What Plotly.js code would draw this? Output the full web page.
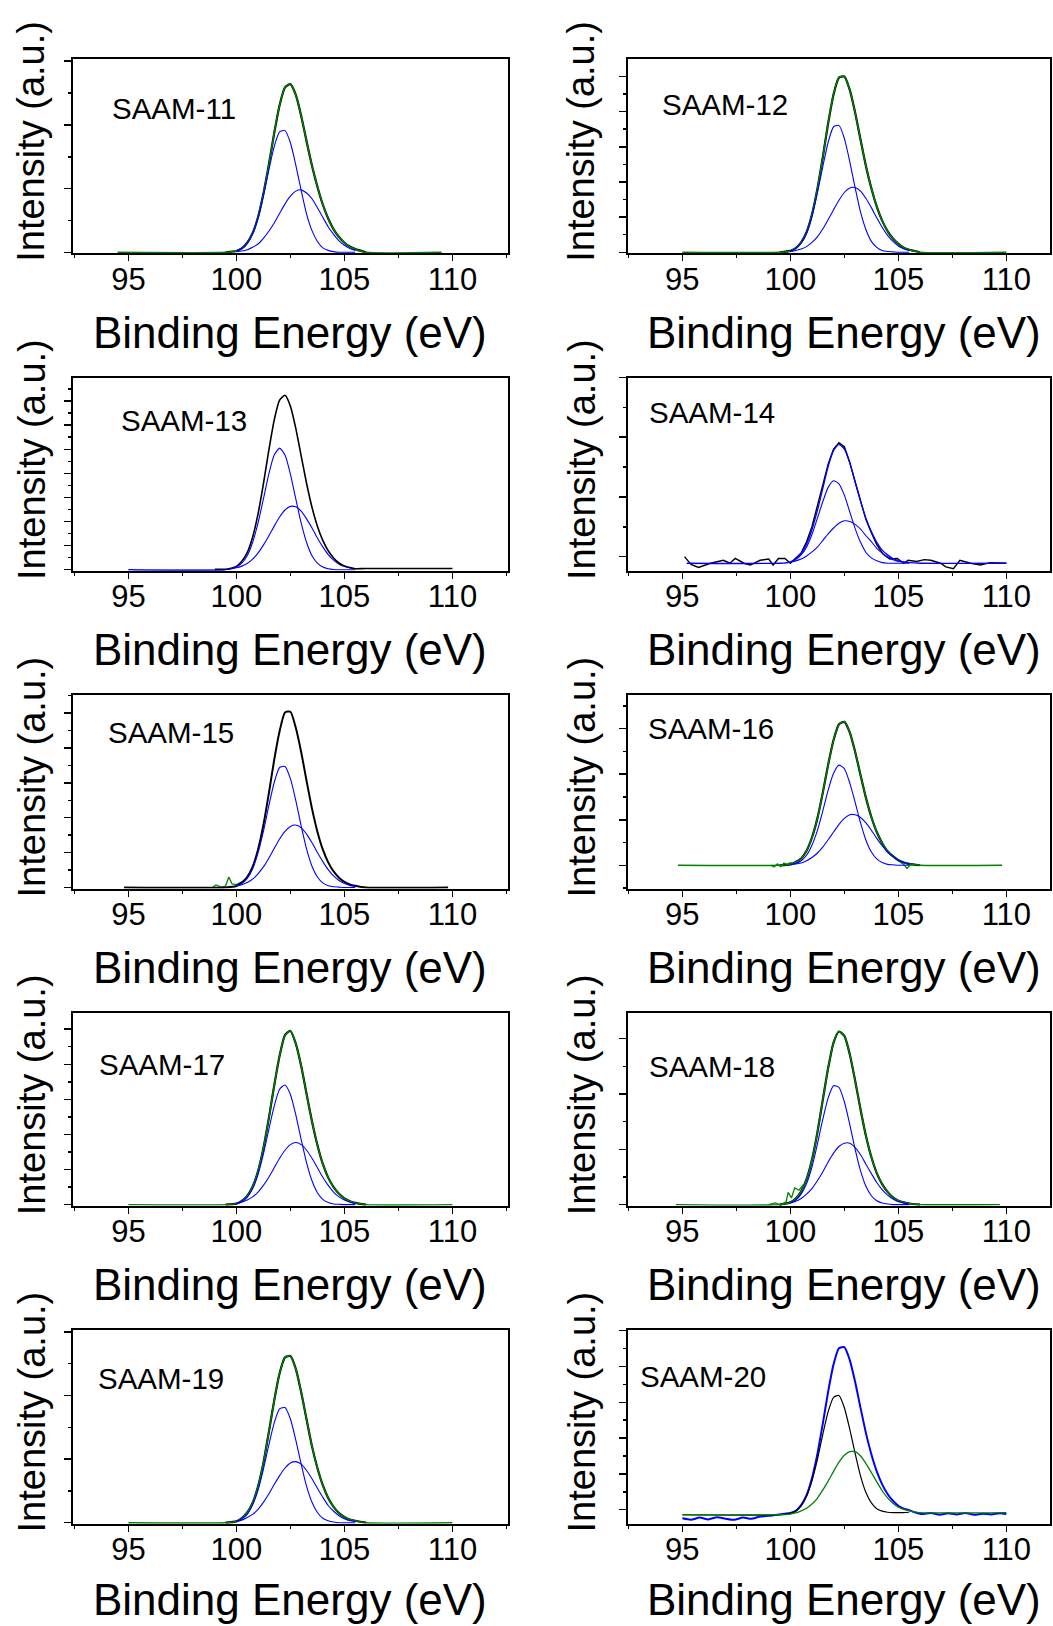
<!DOCTYPE html>
<html>
<head>
<meta charset="utf-8">
<script src="https://cdn.plot.ly/plotly-3.0.1.min.js"></script>
<style>
html,body{margin:0;padding:0;background:#fff;}
#chart{width:1053px;height:1626px;}
</style>
</head>
<body>
<div id="chart"></div>
<script>
// ---------------- DATA ----------------
const SAMPLES = ['SAAM-11','SAAM-12','SAAM-13','SAAM-14','SAAM-15','SAAM-16','SAAM-17','SAAM-18','SAAM-19','SAAM-20'];
const X_TICKS = [95, 100, 105, 110];
const X_TICK_LABELS = ['95', '100', '105', '110'];
const X_TITLE = 'Binding Energy (eV)';
const Y_TITLE = 'Intensity (a.u.)';

// binding energy grid of the fitted peak region (eV)
const X_COMP = [100,100.25,100.5,100.75,101,101.25,101.5,101.75,102,102.25,102.5,102.75,103,103.25,103.5,103.75,104,104.25,104.5,104.75,105,105.25,105.5];

// envelope (measured / fitted sum) and the two components, per sample
const ENV_11 = [.02,.06,.15,.30,.55,.92,1.37,1.87,2.31,2.59,2.64,2.47,2.14,1.74,1.36,1.03,.75,.53,.36,.24,.15,.09,.05];
const C1_11  = [.02,.06,.14,.29,.54,.89,1.29,1.66,1.89,1.91,1.72,1.37,.97,.60,.34,.17,.07,.03,.01,0,0,0,0];
const C2_11  = [.01,.02,.04,.08,.13,.22,.33,.46,.61,.76,.88,.96,.98,.93,.84,.70,.55,.40,.28,.18,.11,.06,.03];

const ENV_12 = [.04,.12,.28,.57,1.07,1.80,2.70,3.67,4.49,4.97,5.00,4.62,3.97,3.20,2.45,1.82,1.30,.90,.60,.39,.24,.13,.07];
const C1_12  = [.04,.11,.27,.55,1.03,1.68,2.43,3.13,3.57,3.61,3.24,2.58,1.83,1.14,.64,.31,.14,.05,.02,.01,0,0,0];
const C2_12  = [.02,.05,.09,.16,.28,.44,.66,.93,1.21,1.48,1.70,1.83,1.84,1.74,1.53,1.27,.98,.71,.48,.31,.18,.10,.05];

const ENV_13 = [.14,.35,.71,1.35,2.31,3.56,4.95,6.21,7.04,7.24,6.79,5.87,4.72,3.58,2.59,1.81,1.22,.79,.49,.28,.16,.09,.04];
const C1_13  = [.11,.27,.58,1.13,1.93,2.94,3.97,4.76,5.05,4.76,3.97,2.94,1.93,1.13,.58,.27,.11,.04,.01,0,0,0,0];
const C2_13  = [.08,.15,.26,.44,.69,1.02,1.40,1.81,2.19,2.48,2.63,2.61,2.43,2.11,1.73,1.32,.95,.63,.40,.23,.13,.07,.03];

const ENV_14 = [-.09,-.03,.06,.21,.45,.77,1.14,1.51,1.78,1.88,1.80,1.57,1.25,.93,.64,.42,.24,.11,.03,-.03,-.07,-.09,-.10];
const C1_14  = [-.09,-.05,.03,.16,.37,.64,.92,1.16,1.27,1.22,1.03,.75,.47,.24,.07,-.02,-.07,-.10,-.11,-.11,-.11,-.11,-.11];
const C2_14  = [-.09,-.07,-.04,.01,.08,.16,.27,.38,.48,.56,.60,.59,.54,.46,.35,.25,.14,.06,0,-.05,-.08,-.09,-.10];
// measured (noisy) SAAM-14 spectrum
const DATA14_X = [95.1,95.4,95.75,96.3,96.9,97.2,97.45,97.85,98.15,98.6,99.0,99.2,99.45,99.75,100.0,100.25,100.5,100.75,101,101.25,101.5,101.75,102,102.25,102.5,102.75,103,103.25,103.5,103.75,104,104.3,104.6,104.95,105.25,105.45,105.85,106.2,106.5,106.95,107.2,107.55,107.85,108.35,108.8,109.25,109.7,110];
const DATA14_Y = [0,-.13,-.18,-.11,-.06,-.11,-.03,-.11,-.14,-.06,-.04,-.14,-.03,-.03,-.11,-.03,.06,.25,.50,.85,1.20,1.55,1.80,1.91,1.84,1.58,1.25,.93,.62,.40,.20,.04,-.04,-.03,-.11,-.06,-.08,-.05,-.06,-.11,-.17,-.20,-.06,-.11,-.14,-.10,-.11,-.11];

const ENV_15 = [.04,.14,.30,.59,1.08,1.79,2.69,3.66,4.48,5.02,5.04,4.58,3.88,3.05,2.26,1.60,1.09,.72,.46,.28,.16,.09,.05];
const C1_15  = [.04,.11,.26,.53,.99,1.61,2.34,3.01,3.44,3.47,3.12,2.49,1.76,1.10,.61,.30,.13,.05,.02,.01,0,0,0];
const C2_15  = [.04,.08,.14,.24,.39,.59,.84,1.12,1.39,1.61,1.75,1.79,1.71,1.53,1.28,1.00,.74,.51,.33,.20,.11,.06,.03];
// noisy onset of the SAAM-15 measured spectrum
const DATA15_X = [98.9,99.05,99.3,99.5,99.65,99.8,100,100.25];
const DATA15_Y = [0,.07,.01,.04,.30,.10,.08,.16];

const ENV_16 = [.02,.07,.15,.32,.61,1.03,1.59,2.21,2.75,3.10,3.15,2.92,2.49,1.98,1.48,1.06,.73,.49,.31,.20,.11,.06,.03];
const C1_16  = [.01,.04,.10,.22,.44,.76,1.19,1.65,2.02,2.20,2.12,1.81,1.38,.93,.55,.29,.14,.06,.02,.01,0,0,0];
const C2_16  = [.01,.03,.05,.10,.17,.27,.40,.56,.73,.90,1.03,1.11,1.11,1.05,.93,.77,.59,.43,.29,.19,.11,.06,.03];
// noisy points of the SAAM-16 measured spectrum near the peak feet
const DATA16_X = [99.1,99.25,99.4,99.55,99.7,99.85,100.0,100.15];
const DATA16_Y = [0,-.04,.03,-.03,.05,.02,.06,.04];
const DATA16B_X = [105.1,105.25,105.4,105.55,105.7];
const DATA16B_Y = [.06,.02,-.07,.01,0];

const ENV_17 = [.03,.11,.25,.51,.95,1.61,2.46,3.39,4.24,4.83,4.95,4.59,3.95,3.15,2.37,1.70,1.16,.77,.50,.31,.18,.10,.05];
const C1_17  = [.03,.09,.21,.45,.86,1.44,2.14,2.81,3.29,3.41,3.14,2.56,1.85,1.19,.68,.34,.15,.06,.02,.01,0,0,0];
const C2_17  = [.03,.07,.13,.22,.36,.55,.78,1.05,1.32,1.55,1.71,1.77,1.71,1.55,1.32,1.05,.78,.55,.36,.22,.13,.07,.03];

const ENV_18 = [.04,.11,.24,.46,.81,1.30,1.89,2.47,2.93,3.13,3.05,2.72,2.24,1.72,1.24,.86,.57,.37,.23,.13,.07,.04,.02];
const C1_18  = [.03,.08,.19,.38,.68,1.09,1.54,1.93,2.15,2.12,1.86,1.45,1.00,.61,.33,.16,.07,.03,.01,0,0,0,0];
const C2_18  = [.03,.06,.11,.19,.29,.43,.59,.77,.93,1.05,1.11,1.11,1.03,.90,.73,.56,.40,.27,.17,.10,.05,.03,.01];
// bumpy onset of the SAAM-18 measured spectrum
const DATA18_X = [99.0,99.3,99.55,99.8,99.9,100.05,100.2,100.4,100.6];
const DATA18_Y = [0,.03,-.01,.05,.22,.12,.30,.26,.36];

const ENV_19 = [.02,.07,.16,.31,.57,.94,1.42,1.92,2.35,2.60,2.62,2.42,2.05,1.62,1.20,.86,.59,.39,.25,.15,.09,.05,.03];
const C1_19  = [.02,.06,.13,.28,.51,.84,1.22,1.57,1.79,1.81,1.63,1.30,.92,.57,.32,.16,.07,.03,.01,0,0,0,0];
const C2_19  = [.02,.04,.08,.13,.21,.32,.45,.60,.74,.86,.94,.96,.92,.82,.69,.54,.40,.27,.18,.11,.06,.03,.02];

const ENV_20 = [-.09,-.03,.13,.41,.88,1.55,2.40,3.30,4.06,4.51,4.54,4.18,3.57,2.84,2.14,1.55,1.07,.71,.44,.25,.11,.03,-.01];
const C1_20  = [-.10,-.04,.11,.38,.81,1.40,2.10,2.74,3.14,3.19,2.85,2.25,1.57,.94,.48,.19,.03,-.04,-.07,-.08,-.08,-.08,-.07];
const C2_20  = [-.12,-.09,-.03,.04,.16,.32,.55,.80,1.07,1.33,1.52,1.62,1.62,1.50,1.29,1.04,.78,.53,.33,.18,.07,.01,-.03];
// noisy baseline tails of the SAAM-20 spectrum
const TAIL20_LX = [95,95.4,95.8,96.2,96.6,97,97.4,97.8,98.2,98.6,99,99.4,99.75];
const TAIL20_LY = [-.24,-.28,-.22,-.27,-.21,-.25,-.28,-.22,-.25,-.19,-.17,-.14,-.11];
const TAIL20_RX = [105.75,106.1,106.5,106.9,107.3,107.7,108.1,108.5,108.9,109.3,109.7,110];
const TAIL20_RY = [-.07,-.12,-.09,-.14,-.10,-.13,-.09,-.14,-.11,-.13,-.10,-.12];

// measured energy span and baseline level at both ends of each spectrum
const X_START = [94.5,95,95,95.2,94.8,94.8,95,94.7,95,95];
const X_END   = [109.5,110,110,110,109.8,109.8,110,109.7,110,110];
const BASE_L  = [0,0,0.02,-0.11,0,0,0,0,0,-0.14];
const BASE_R  = [0,0,0.05,-0.11,0,0,0,0,0,-0.08];

const ENVS = [ENV_11,ENV_12,ENV_13,ENV_14,ENV_15,ENV_16,ENV_17,ENV_18,ENV_19,ENV_20];
const C1S  = [C1_11,C1_12,C1_13,C1_14,C1_15,C1_16,C1_17,C1_18,C1_19,C1_20];
const C2S  = [C2_11,C2_12,C2_13,C2_14,C2_15,C2_16,C2_17,C2_18,C2_19,C2_20];

// ---------------- LAYOUT (pixel geometry of the figure) ----------------
const W = 1053, H = 1626;
const COL_L = [73.3, 627.7], COL_R = [507.5, 1050];
const TITLE_CX = [290.4, 843.9];
const YTITLE_CX = [31.5, 581.5];
const ROW_T = [59.3, 377.5, 695, 1012.7, 1330];
const ROW_B = [253.3, 570.7, 888.5, 1205.7, 1523.7];
const X_TITLE_DY = [79, 79, 79, 79, 76];
const X_RANGE = [[92.45, 112.55], [92.47, 112.02]];
const Y_MIN = [-0.016, -0.03, -0.04, -0.235, -0.03, -0.51, -0.03, -0.02, -0.016, -0.39];
const Y_MAX = [3.03, 5.49, 7.98, 3.0, 5.52, 3.74, 5.47, 3.47, 3.03, 5.02];
const LABEL_PX = [[110,108.3],[660,104],[119.3,420],[647.3,412.7],[106,732.7],[646,728.3],[97.3,1064],[647.3,1066.7],[96,1378.3],[638.3,1376.7]];

const BLUE = '#0000ff', GREEN = '#008000', BLACK = '#000000';
const FONT = 'Liberation Sans, Arial, Helvetica, sans-serif';

function tr(x, y, color, width, i, shape) {
  const s = i === 0 ? '' : String(i + 1);
  return {type:'scatter', mode:'lines', x:x, y:y, xaxis:'x'+s, yaxis:'y'+s,
          line:{color:color, width:width, shape:shape || 'spline', smoothing:0.6},
          hoverinfo:'skip', showlegend:false};
}

const traces = [];
const layout = {
  width: W, height: H,
  margin: {l:0, r:0, t:0, b:0, pad:0},
  paper_bgcolor: '#ffffff', plot_bgcolor: '#ffffff',
  showlegend: false,
  annotations: []
};

for (let i = 0; i < SAMPLES.length; i++) {
  const col = i % 2, row = Math.floor(i / 2);
  const s = i === 0 ? '' : String(i + 1);
  const env = ENVS[i], c1 = C1S[i], c2 = C2S[i];
  const bl = BASE_L[i], br = BASE_R[i];
  const fullX = [X_START[i], 99.5].concat(X_COMP, [106, X_END[i]]);
  const fullY = [bl, bl].concat(env, [br, br]);
  const shortX = [99.5].concat(X_COMP, [106]);
  const shortY = [bl].concat(env, [br]);
  const name = SAMPLES[i];

  if (name === 'SAAM-13') {
    traces.push(tr([95, 99.5].concat(X_COMP), [0, 0].concat(c2), BLUE, 1.1, i));
    traces.push(tr([99, 99.5].concat(X_COMP, [106, 110]), [bl, bl].concat(env, [br, br]), BLACK, 1.6, i));
    traces.push(tr([95, 99.5].concat(X_COMP), [0, 0].concat(c1), BLUE, 1.1, i));
  } else if (name === 'SAAM-14') {
    traces.push(tr(DATA14_X, DATA14_Y, BLACK, 1.4, i, 'linear'));
    traces.push(tr(fullX, fullY, BLUE, 1.3, i));
    traces.push(tr(X_COMP, c1, BLUE, 1.1, i));
    traces.push(tr(X_COMP, c2, BLUE, 1.1, i));
  } else if (name === 'SAAM-15') {
    traces.push(tr(DATA15_X, DATA15_Y, GREEN, 1.3, i, 'linear'));
    traces.push(tr(fullX, fullY, BLACK, 2.0, i));
    traces.push(tr(X_COMP, c1, BLUE, 1.1, i));
    traces.push(tr(X_COMP, c2, BLUE, 1.1, i));
  } else if (name === 'SAAM-20') {
    traces.push(tr(TAIL20_LX.concat(X_COMP, TAIL20_RX), TAIL20_LY.concat(env, TAIL20_RY), BLUE, 2.0, i));
    traces.push(tr([95, 99.5].concat(X_COMP), [bl, bl].concat(c1), BLACK, 1.2, i));
    traces.push(tr([95, 99.5].concat(X_COMP, [106, 110]), [bl, bl].concat(c2, [br, br]), GREEN, 1.3, i));
  } else {
    traces.push(tr(shortX, shortY, BLACK, 2.2, i));
    traces.push(tr(fullX, fullY, GREEN, 1.4, i));
    if (name === 'SAAM-16') {
      traces.push(tr(DATA16_X, DATA16_Y, GREEN, 1.2, i, 'linear'));
      traces.push(tr(DATA16B_X, DATA16B_Y, GREEN, 1.2, i, 'linear'));
    }
    if (name === 'SAAM-18') {
      traces.push(tr(DATA18_X, DATA18_Y, GREEN, 1.3, i, 'linear'));
    }
    traces.push(tr(X_COMP, c1, BLUE, 1.1, i));
    traces.push(tr(X_COMP, c2, BLUE, 1.1, i));
  }

  layout['xaxis' + s] = {
    domain: [COL_L[col] / W, COL_R[col] / W],
    range: X_RANGE[col],
    anchor: 'y' + s,
    tickmode: 'array', tickvals: X_TICKS, ticktext: X_TICK_LABELS,
    ticks: 'outside', ticklen: 6, tickwidth: 1.5, tickcolor: BLACK,
    ticklabelstandoff: -9,
    minor: {tick0: 92.5, dtick: 2.5, ticks: 'outside', ticklen: 3, tickwidth: 1.5, tickcolor: BLACK, showgrid: false},
    showline: true, linecolor: BLACK, linewidth: 2, mirror: true,
    showgrid: false, zeroline: false, fixedrange: true,
    layer: 'below traces',
    tickfont: {family: FONT, size: 31, color: BLACK}
  };
  layout['yaxis' + s] = {
    domain: [1 - ROW_B[row] / H, 1 - ROW_T[row] / H],
    range: [Y_MIN[i], Y_MAX[i]],
    anchor: 'x' + s,
    tick0: 0, dtick: 1,
    ticks: 'outside', ticklen: 7, tickwidth: 1.5, tickcolor: BLACK,
    minor: {tick0: 0, dtick: 0.5, ticks: 'outside', ticklen: 3, tickwidth: 1.5, tickcolor: BLACK, showgrid: false},
    showticklabels: false,
    showline: true, linecolor: BLACK, linewidth: 2, mirror: true,
    showgrid: false, zeroline: false, fixedrange: true,
    layer: 'below traces'
  };

  // sample label
  layout.annotations.push({
    xref: 'paper', yref: 'paper',
    x: LABEL_PX[i][0] / W, y: 1 - LABEL_PX[i][1] / H,
    xanchor: 'left', yanchor: 'middle', showarrow: false,
    text: name, font: {family: FONT, size: 29.5, color: BLACK}
  });
  // x axis title
  layout.annotations.push({
    xref: 'paper', yref: 'paper',
    x: TITLE_CX[col] / W, y: 1 - (ROW_B[row] + X_TITLE_DY[row]) / H,
    xanchor: 'center', yanchor: 'middle', showarrow: false,
    text: X_TITLE, font: {family: FONT, size: 44, color: BLACK}
  });
  // y axis title
  layout.annotations.push({
    xref: 'paper', yref: 'paper',
    x: YTITLE_CX[col] / W, y: 1 - (ROW_T[row] + 82) / H,
    xanchor: 'center', yanchor: 'middle', showarrow: false, textangle: -90,
    text: Y_TITLE, font: {family: FONT, size: 38, color: BLACK}
  });
}

Plotly.newPlot('chart', traces, layout, {staticPlot: true, displayModeBar: false});
</script>
</body>
</html>
